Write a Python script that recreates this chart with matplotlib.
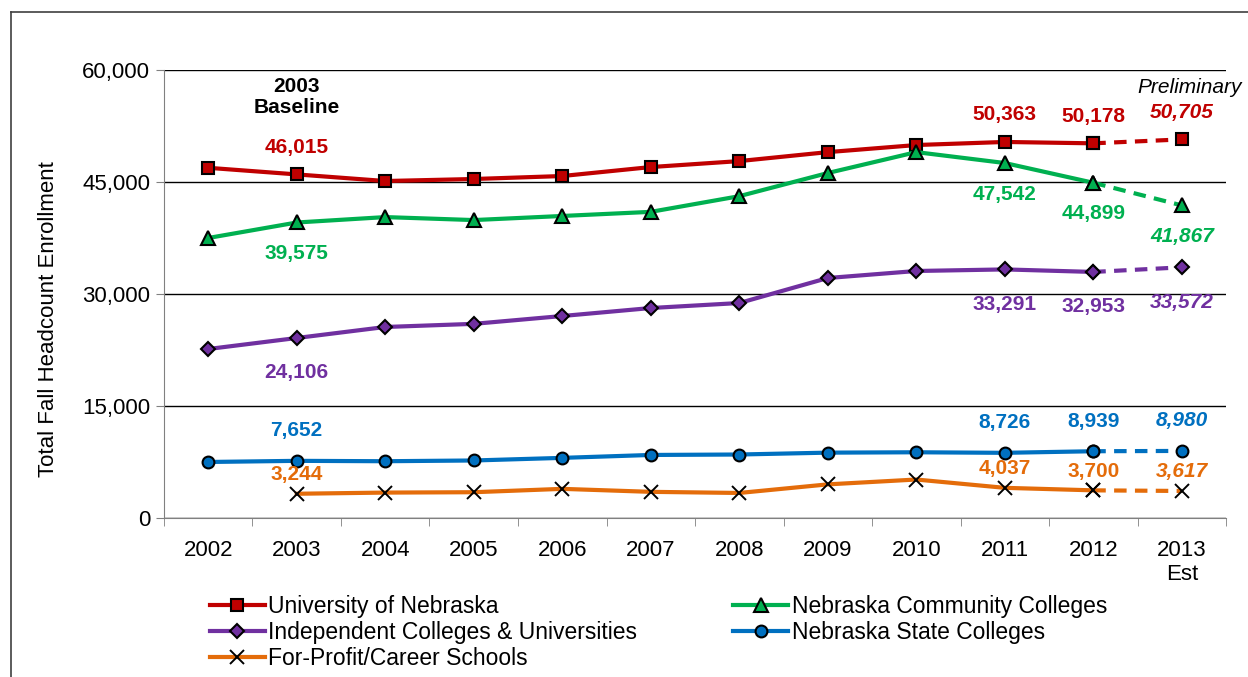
import numpy as np
import matplotlib.pyplot as plt
from matplotlib.lines import Line2D

plt.rcParams['font.family'] = ['Liberation Sans', 'DejaVu Sans']

years = ['2002', '2003', '2004', '2005', '2006', '2007', '2008',
         '2009', '2010', '2011', '2012', '2013\nEst']

unl = [46900, 46015, 45130, 45400, 45800, 47000, 47800, 49000, 49950, 50363, 50178, 50705]
ncc = [37500, 39575, 40300, 39900, 40450, 41000, 43100, 46200, 49000, 47542, 44899, 41867]
indep = [22630, 24106, 25580, 26000, 27050, 28120, 28790, 32140, 33080, 33291, 32953, 33572]
state = [7500, 7652, 7600, 7700, 8050, 8440, 8500, 8750, 8800, 8726, 8939, 8980]
forprofit = [np.nan, 3244, 3400, 3450, 3900, 3500, 3350, 4500, 5150, 4037, 3700, 3617]

names = ['University of Nebraska', 'Nebraska Community Colleges',
         'Independent Colleges & Universities', 'Nebraska State Colleges',
         'For-Profit/Career Schools']
colors = ['#C00000', '#00B050', '#7030A0', '#0070C0', '#E46C0A']
markers = ['s', '^', 'D', 'o', 'x']
msizes = [8, 9.5, 7.5, 8.5, 10.5]
# label offset in pixels: above (+) or below (-)
label_off = [27, -31, -35, 30, 19]
label_idx = [1, 9, 10, 11]

fig = plt.figure(figsize=(12.48, 6.77), dpi=100)
ax = fig.add_axes([0.1314, 0.2349, 0.851, 0.6617])

x = np.arange(len(years))
series = [unl, ncc, indep, state, forprofit]
handles = []
for s, name, c, m, ms, off in zip(series, names, colors, markers, msizes, label_off):
    s = np.array(s, dtype=float)
    mkw = dict(marker=m, markersize=ms, markerfacecolor=c, markeredgecolor='black',
               markeredgewidth=1.5 if m != 'x' else 1.4)
    ax.plot(x[:11], s[:11], color=c, lw=3, zorder=3, **mkw)
    ax.plot(x[10:], s[10:], color=c, lw=3, ls=(0, (3, 2)), zorder=3, **mkw)
    handles.append(Line2D([], [], color=c, lw=3, **mkw))
    for i in label_idx:
        if np.isnan(s[i]):
            continue
        ax.annotate(f'{int(s[i]):,}', (x[i], s[i]), xytext=(0, off),
                    textcoords='offset pixels', ha='center', va='center',
                    color=c, fontsize=15, fontweight='bold',
                    fontstyle='italic' if i == 11 else 'normal')

ax.set_xlim(-0.5, 11.5)
ax.set_ylim(0, 60000)
ax.set_yticks(np.arange(0, 60001, 15000))
ax.set_yticklabels([f'{v:,}' for v in range(0, 60001, 15000)], fontsize=16)
ax.set_xticks(x)
ax.set_xticklabels(years, fontsize=16, linespacing=1.2)
ax.set_xticks(np.arange(-0.5, 12, 1), minor=True)
ax.tick_params(axis='x', which='major', length=0, pad=16)
ax.tick_params(axis='x', which='minor', length=6, color='#808080')
ax.tick_params(axis='y', length=6, color='#808080', pad=4)
ax.grid(axis='y', color='black', lw=1)
ax.set_axisbelow(True)
for sp in ['top', 'right']:
    ax.spines[sp].set_visible(False)
for sp in ['left', 'bottom']:
    ax.spines[sp].set_color('#808080')
ax.set_ylabel('Total Fall Headcount Enrollment', fontsize=16)
ax.yaxis.set_label_coords(-0.099, 0.444)

ax.text(1, 56400, '2003\nBaseline', ha='center', va='center', fontsize=15,
        fontweight='bold', linespacing=1.15)
ax.text(11.68, 57700, 'Preliminary', ha='right', va='center', fontsize=15,
        fontstyle='italic', clip_on=False)

order = [0, 2, 4, 1, 3]
fig.legend([handles[i] for i in order], [names[i] for i in order],
           loc='upper left', bbox_to_anchor=(0.168, 0.121), ncol=2,
           frameon=False, fontsize=16.5, handlelength=2.4, handletextpad=0.15,
           labelspacing=0.12, columnspacing=4.2, borderaxespad=0, borderpad=0)

# chart area frame
fig.add_artist(Line2D([11 / 1248, 11 / 1248], [0, 1 - 12 / 677], color='#404040', lw=1.2))
fig.add_artist(Line2D([11 / 1248, 1], [1 - 12 / 677, 1 - 12 / 677], color='#404040', lw=1.2))

fig.savefig('out.png', dpi=100)
